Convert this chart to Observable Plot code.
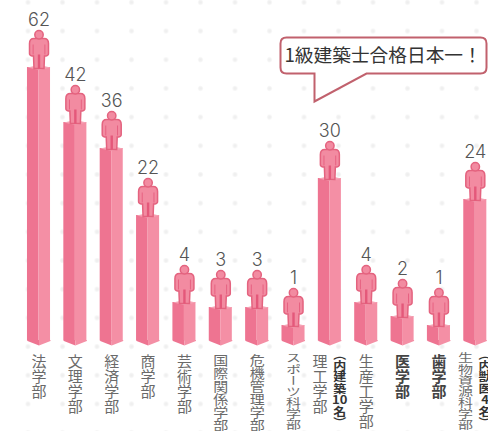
<!DOCTYPE html>
<html lang="ja">
<head>
<meta charset="utf-8">
<script src="https://cdn.jsdelivr.net/npm/d3@7"></script>
<script src="https://cdn.jsdelivr.net/npm/@observablehq/plot@0.6"></script>
<style>
html,body{margin:0;padding:0;background:#fff;overflow:hidden;}
#chart{width:488px;height:431px;overflow:hidden;
 background-image:radial-gradient(circle,#eeeeee 0,#f1f1f1 1.6px,rgba(255,255,255,0) 3px);
 background-size:34.5px 28.7px;background-position:10.75px -12px;}
#chart svg{background:transparent;display:block;}
.vert text{writing-mode:vertical-rl;}
</style>
</head>
<body>
<div id="chart"></div>
<script>
const faculties = ["法学部","文理学部","経済学部","商学部","芸術学部","国際関係学部","危機管理学部","スポーツ科学部","理工学部","生産工学部","医学部","歯学部","生物資源科学部"];
const counts = [62,42,36,22,4,3,3,1,30,4,2,1,24];
const boldFaculties = ["医学部","歯学部"];
const notes = [
  {faculty:"理工学部", lines:["︵","内","建","築","10","名","︶"]},
  {faculty:"生物資源科学部", lines:["︵","内","獣","医","4","名","︶"]}
];
const calloutText = "1級建築士合格日本一！";

// The source graphic's pillars are not drawn to a straight scale, so y is piecewise.
const yDomain = [0,1,2,3,4,22,24,30,36,42,62];
const yRange = [340.5,325,316,307,302,215,199,178,148,122,67];

const idx = faculties.map((_,i)=>i);
const halfW = 0.317;
const noted = notes.map(o=>o.faculty);
const rows = idx.map(i=>({i,name:faculties[i],n:counts[i],lx:i-(noted.includes(faculties[i])?0.27:0)}));
const regular = rows.filter(d=>!boldFaculties.includes(d.name));
const bold = rows.filter(d=>boldFaculties.includes(d.name));
const noteRows = notes.map(o=>({x:faculties.indexOf(o.faculty)+0.27,text:o.lines.join("\n")}));

const poly = (pts)=>({draw(c){pts.forEach((p,k)=>k?c.lineTo(p[0],p[1]):c.moveTo(p[0],p[1]));c.closePath();}});
const capSym = poly([[-11.5,0],[0,-2.5],[11.5,0],[0,2.5]]);
const footL = poly([[-11.5,-1],[0,-1],[0,4.5],[-11.5,0]]);
const footR = poly([[0,-1],[11.5,-1],[11.5,0],[0,4.5]]);

// person, origin at the soles, resting on the pillar top
const personBody = {draw(c){
  c.moveTo(-5,-30);
  c.quadraticCurveTo(-9.5,-30,-9.5,-25);
  c.lineTo(-9.5,-15);
  c.quadraticCurveTo(-9.5,-13,-7,-12.5);
  c.lineTo(-5.5,-12.5);
  c.lineTo(-5,0);
  c.lineTo(5,0);
  c.lineTo(5.5,-12.5);
  c.lineTo(7,-12.5);
  c.quadraticCurveTo(9.5,-13,9.5,-15);
  c.lineTo(9.5,-25);
  c.quadraticCurveTo(9.5,-30,5,-30);
  c.closePath();
}};
const personHead = {draw(c){c.moveTo(4.2,-33.8);c.arc(0,-33.8,4.2,0,2*Math.PI);c.closePath();}};
const personLines = {draw(c){
  c.moveTo(-1.2,-14);c.lineTo(-1.2,0);c.lineTo(1.2,0);c.lineTo(1.2,-14);c.closePath();
  c.moveTo(-6.3,-24);c.lineTo(-5.5,-24);c.lineTo(-5.5,-14);c.lineTo(-6.3,-14);c.closePath();
  c.moveTo(6.3,-24);c.lineTo(5.5,-24);c.lineTo(5.5,-14);c.lineTo(6.3,-14);c.closePath();
}};

const calloutSym = {draw(c){
  const l=280,r=486,t=37,b=73,q=6;
  c.moveTo(l+q,t);c.lineTo(r-q,t);c.quadraticCurveTo(r,t,r,t+q);
  c.lineTo(r,b-q);c.quadraticCurveTo(r,b,r-q,b);
  c.lineTo(366,b);c.lineTo(314,101);c.lineTo(314,b);
  c.lineTo(l+q,b);c.quadraticCurveTo(l,b,l,b-q);
  c.lineTo(l,t+q);c.quadraticCurveTo(l,t,l+q,t);c.closePath();
}};

// squeeze long vertical labels so they fit the bottom of the picture, as the reference does
function fitLabels(index, scales, values, dims, ctx, next){
  const g = next(index, scales, values, dims, ctx);
  g.querySelectorAll("text").forEach(t=>{
    const n = t.textContent.length;
    const k = Math.min(1, 78/(15*n));
    t.setAttribute("transform", (t.getAttribute("transform")||"")+` scale(1,${k})`);
  });
  return g;
}
function squashNote(index, scales, values, dims, ctx, next){
  const g = next(index, scales, values, dims, ctx);
  g.querySelectorAll("text").forEach(t=>{
    t.setAttribute("transform", (t.getAttribute("transform")||"")+" scale(1,0.88)");
  });
  return g;
}

const labelFont = "'Noto Sans CJK JP','Noto Sans',sans-serif";
const base = {x:"i",y:"n"};

const plot = Plot.plot({
  width:488,height:431,
  marginTop:0,marginRight:0,marginBottom:0,marginLeft:0,
  style:{background:"transparent",fontFamily:labelFont,overflow:"hidden"},
  x:{type:"linear",domain:[0,12],range:[38.5,474.8],axis:null},
  y:{type:"linear",domain:yDomain,range:yRange,axis:null},
  marks:[
    Plot.rect(rows,{x1:d=>d.i-halfW,x2:"i",y1:0,y2:"n",fill:"#ee7491"}),
    Plot.rect(rows,{x1:"i",x2:d=>d.i+halfW,y1:0,y2:"n",fill:"#f48fa5"}),
    Plot.dot(rows,{x:"i",y:()=>0,symbol:footL,r:5,fill:"#ee7491",stroke:"none"}),
    Plot.dot(rows,{x:"i",y:()=>0,symbol:footR,r:5,fill:"#f48fa5",stroke:"none"}),
    Plot.dot(rows,{...base,symbol:capSym,r:5,fill:"#f5a3b5",stroke:"none"}),
    Plot.dot(rows,{...base,symbol:personBody,r:5,dy:1,fill:"#f28ba1",stroke:"#e4637f",strokeWidth:1.5}),
    Plot.dot(rows,{...base,symbol:personHead,r:5,dy:1,fill:"#f28ba1",stroke:"#e4637f",strokeWidth:1.5}),
    Plot.dot(rows,{...base,symbol:personLines,r:5,dy:1,fill:"#e4587a",stroke:"none"}),
    Plot.text(rows,{...base,text:d=>String(d.n),dy:-47,fontSize:18,fontWeight:300,fill:"#555",
      fontFamily:"Inter,sans-serif",lineAnchor:"middle"}),
    Plot.text(regular,{x:"lx",text:"name",frameAnchor:"top",y:null,dy:348.5,textAnchor:"start",lineAnchor:"middle",
      fontSize:15,fill:"#6a6a6a",className:"vert",fontFamily:labelFont,render:fitLabels}),
    Plot.text(bold,{x:"lx",text:"name",frameAnchor:"top",y:null,dy:348.5,textAnchor:"start",lineAnchor:"middle",
      fontSize:15,fontWeight:"bold",fill:"#444",className:"vert",fontFamily:labelFont,render:fitLabels}),
    Plot.text(noteRows,{x:"x",text:"text",frameAnchor:"top",y:null,dy:350,lineAnchor:"top",lineHeight:1,
      fontSize:13,fontWeight:"bold",fill:"#333",fontFamily:labelFont,render:squashNote}),
    Plot.dot([calloutText],{frameAnchor:"top-left",symbol:calloutSym,r:5,fill:"#fff",stroke:"#c1616d",strokeWidth:2}),
    Plot.text([calloutText],{text:d=>d,frameAnchor:"top-left",dx:284,dy:56,textAnchor:"start",lineAnchor:"middle",
      fontSize:18.7,fill:"#333",fontFamily:labelFont})
  ]
});
document.getElementById("chart").append(plot);
</script>
</body>
</html>
